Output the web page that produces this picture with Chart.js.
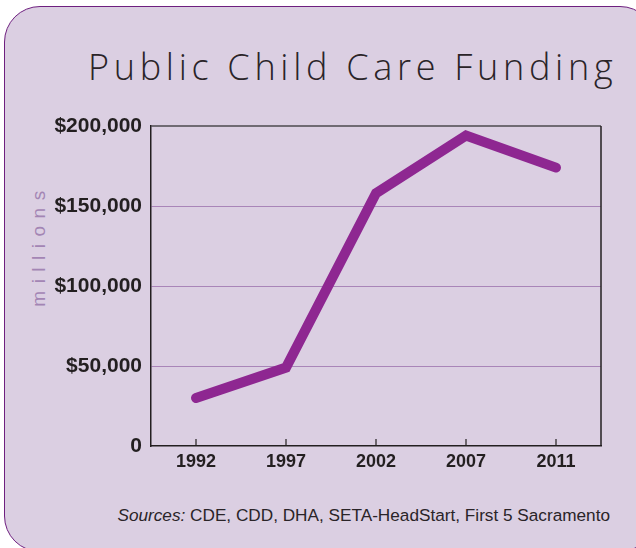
<!DOCTYPE html>
<html>
<head>
<meta charset="utf-8">
<script src="https://cdn.jsdelivr.net/npm/chart.js@4"></script>
<style>
  html, body { margin: 0; padding: 0; background: #ffffff; overflow: hidden; width: 636px; height: 548px; }
  #card { position: absolute; left: 4px; top: 6px; width: 652px; height: 546px; box-sizing: border-box;
          border: 1.6px solid #6e1f7f; border-radius: 36px; background: #dbcfe2; }
  #title { position: absolute; left: 88px; top: 49px; font-family: "Open Sans", Lato, sans-serif;
           font-weight: 300; font-size: 36px; letter-spacing: 4.7px; color: #2a2428; white-space: nowrap; line-height: 1; }
  #units { position: absolute; left: 39px; top: 245px; transform: translate(-50%, -50%) rotate(-90deg);
           font-family: "Liberation Sans", Arial, sans-serif; font-size: 19px; letter-spacing: 7.5px; color: #a385b4; white-space: nowrap; }
  #source { position: absolute; right: 26px; top: 505px; font-family: "Liberation Sans", Arial, sans-serif;
            font-size: 17.2px; color: #2a2428; white-space: nowrap; }
  canvas { position: absolute; left: 0; top: 0; }
</style>
</head>
<body>
<div id="card"></div>
<div id="title">Public Child Care Funding</div>
<div id="units">millions</div>
<div id="source"><i>Sources:</i> CDE, CDD, DHA, SETA-HeadStart, First 5 Sacramento</div>
<canvas id="c" width="636" height="548"></canvas>
<script>
const years = ["1992", "1997", "2002", "2007", "2011"];
const funding = [30000, 49000, 158000, 194000, 174000];
const yTicks = [0, 50000, 100000, 150000, 200000];

function fmtMoney(v) {
  if (v === 0) return "0";
  return "$" + v.toLocaleString("en-US");
}

const frame = {
  id: "frame",
  afterDatasetsDraw(chart) {
    const { ctx, chartArea: a, scales: { x } } = chart;
    ctx.save();
    ctx.strokeStyle = "#4d4a4e";
    ctx.lineWidth = 1.5;
    ctx.beginPath(); ctx.moveTo(a.left, a.top); ctx.lineTo(a.right, a.top); ctx.stroke();
    ctx.strokeStyle = "#231f20";
    ctx.beginPath(); ctx.moveTo(a.right, a.top); ctx.lineTo(a.right, a.bottom); ctx.stroke();
    ctx.lineWidth = 1.2;
    x.ticks.forEach((t, i) => {
      const px = x.getPixelForTick(i);
      ctx.beginPath(); ctx.moveTo(px, a.bottom); ctx.lineTo(px, a.bottom - 7); ctx.stroke();
    });
    ctx.restore();
  }
};

new Chart(document.getElementById("c"), {
  type: "line",
  data: {
    labels: years,
    datasets: [{
      data: funding,
      borderColor: "#8e2791",
      borderWidth: 10,
      borderCapStyle: "round",
      borderJoinStyle: "miter",
      tension: 0,
      pointRadius: 0,
      fill: false
    }]
  },
  options: {
    responsive: false,
    animation: false,
    devicePixelRatio: 1,
    layout: { padding: { left: 0, top: 126, right: 35, bottom: 0 } },
    plugins: { legend: { display: false }, tooltip: { enabled: false }, title: { display: false } },
    scales: {
      x: {
        offset: true,
        grid: { display: false, drawTicks: false },
        border: { display: true, color: "#231f20", width: 1.5 },
        ticks: { padding: 5, color: "#231f20", font: { family: "'Liberation Sans', Arial, sans-serif", size: 18, weight: "bold" } },
        afterFit(s) { s.height = 102; }
      },
      y: {
        min: 0, max: 200000,
        afterBuildTicks(s) { s.ticks = yTicks.map(v => ({ value: v })); },
        grid: {
          drawTicks: false,
          color: (c) => (c.tick && (c.tick.value === 0 || c.tick.value === 200000)) ? "rgba(0,0,0,0)" : "#a985b8",
          lineWidth: 1
        },
        border: { display: true, color: "#231f20", width: 1.5 },
        ticks: {
          padding: 9, color: "#231f20",
          font: { family: "'Liberation Sans', Arial, sans-serif", size: 21, weight: "bold" },
          callback: (v) => fmtMoney(v)
        },
        afterFit(s) { s.width = 151; }
      }
    }
  },
  plugins: [frame]
});
</script>
</body>
</html>
